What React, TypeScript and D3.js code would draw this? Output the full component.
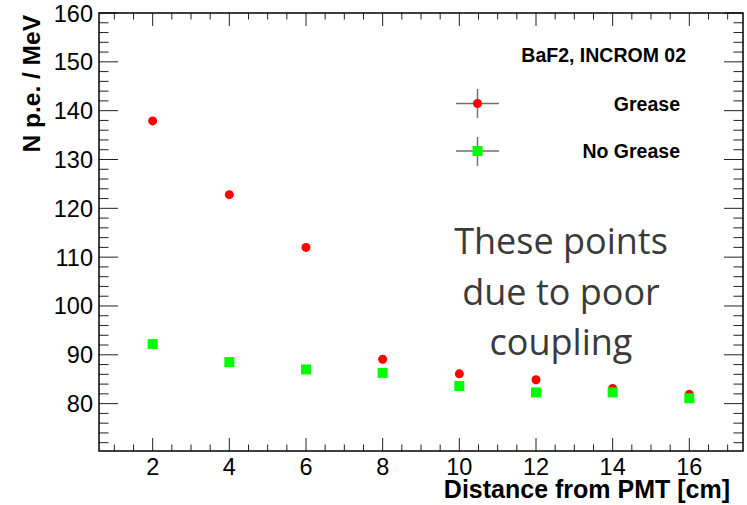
import * as d3 from 'd3';
import React from 'react';

// distance from PMT [cm]
const distance = [2, 4, 6, 8, 10, 12, 14, 16];
// N p.e. / MeV
const grease = [137.9, 122.8, 112.0, 89.1, 86.1, 84.9, 83.1, 81.9];
const noGrease = [92.2, 88.5, 87.0, 86.3, 83.6, 82.3, 82.3, 81.1];

const yTickLabels = [80, 90, 100, 110, 120, 130, 140, 150, 160];
const xTickLabels = [2, 4, 6, 8, 10, 12, 14, 16];
const noteLines = ['These points', 'due to poor', 'coupling'];

const W = 747;
const H = 505;
const left = 99, top = 13, right = 743, bottom = 451;

const App = () => {
  const x = d3.scaleLinear().domain([0.6, 17.4]).range([left, right]);
  const y = d3.scaleLinear().domain([70.3, 160]).range([bottom, top]);

  const xMinor = d3.range(1, 17.01, 0.5).filter(v => v % 2 !== 0);
  const yMinor = d3.range(72, 160, 2).filter(v => v % 10 !== 0);

  const tickCol = '#222';
  const font = 'Arial, "Liberation Sans", sans-serif';

  return (
    <svg width={W} height={H} style={{ position: 'absolute', left: 0, top: 0 }} fontFamily={font}>
      <rect width={W} height={H} fill="#fff" />

      {/* x ticks, bottom and top */}
      {xTickLabels.map(v => (
        <g key={'xM' + v} stroke={tickCol} strokeWidth={1}>
          <line x1={x(v)} x2={x(v)} y1={bottom} y2={bottom - 13} />
          <line x1={x(v)} x2={x(v)} y1={top} y2={top + 13} />
        </g>
      ))}
      {xMinor.map(v => (
        <g key={'xm' + v} stroke={tickCol} strokeWidth={1}>
          <line x1={x(v)} x2={x(v)} y1={bottom} y2={bottom - 6.5} />
          <line x1={x(v)} x2={x(v)} y1={top} y2={top + 6.5} />
        </g>
      ))}

      {/* y ticks, left and right */}
      {yTickLabels.map(v => (
        <g key={'yM' + v} stroke={tickCol} strokeWidth={1}>
          <line x1={left} x2={left + 19} y1={y(v)} y2={y(v)} />
          <line x1={right} x2={right - 19} y1={y(v)} y2={y(v)} />
        </g>
      ))}
      {yMinor.map(v => (
        <g key={'ym' + v} stroke={tickCol} strokeWidth={1}>
          <line x1={left} x2={left + 9.5} y1={y(v)} y2={y(v)} />
          <line x1={right} x2={right - 9.5} y1={y(v)} y2={y(v)} />
        </g>
      ))}

      <rect x={left} y={top} width={right - left} height={bottom - top} fill="none" stroke="#000" strokeWidth={1.5} />

      {/* tick labels */}
      {yTickLabels.map(v => (
        <text key={'yl' + v} x={93} y={y(v) + 8.5} textAnchor="end" fontSize={23.5} fill="#000">{v}</text>
      ))}
      {xTickLabels.map(v => (
        <text key={'xl' + v} x={x(v)} y={474.5} textAnchor="middle" fontSize={23.5} fill="#000">{v}</text>
      ))}

      {/* axis titles */}
      <text x={730} y={497.5} textAnchor="end" fontSize={25} fontWeight="bold" fill="#000">Distance from PMT [cm]</text>
      <text transform="translate(40,15) rotate(-90)" textAnchor="end" fontSize={24.5} fontWeight="bold" fill="#000">N p.e. / MeV</text>

      {/* data */}
      {distance.map((d, i) => (
        <circle key={'g' + d} cx={x(d)} cy={y(grease[i])} r={4.5} fill="#ff0000" />
      ))}
      {distance.map((d, i) => (
        <rect key={'n' + d} x={x(d) - 5} y={y(noGrease[i]) - 5} width={10} height={10} fill="#00ff00" />
      ))}

      {/* legend */}
      <text x={686} y={62} textAnchor="end" fontSize={19.5} fontWeight="bold" fill="#000">BaF2, INCROM 02</text>
      <g stroke="#707070" strokeWidth={1.5}>
        <line x1={456} x2={499} y1={103.5} y2={103.5} />
        <line x1={477.5} x2={477.5} y1={89} y2={118} />
        <line x1={456} x2={499} y1={151} y2={151} />
        <line x1={477.5} x2={477.5} y1={137} y2={166} />
      </g>
      <circle cx={477.5} cy={103.5} r={4.5} fill="#ff0000" />
      <rect x={472.5} y={146} width={10} height={10} fill="#00ff00" />
      <text x={680} y={111} textAnchor="end" fontSize={19.5} fontWeight="bold" fill="#000">Grease</text>
      <text x={680} y={158} textAnchor="end" fontSize={19.5} fontWeight="bold" fill="#000">No Grease</text>

      {/* annotation */}
      {noteLines.map((t, i) => (
        <text key={t} x={561} y={254 + i * 50.5} textAnchor="middle" fontSize={36} fill="#3a3a3a" fontFamily='"Open Sans", sans-serif'>{t}</text>
      ))}
    </svg>
  );
};

export default App;
